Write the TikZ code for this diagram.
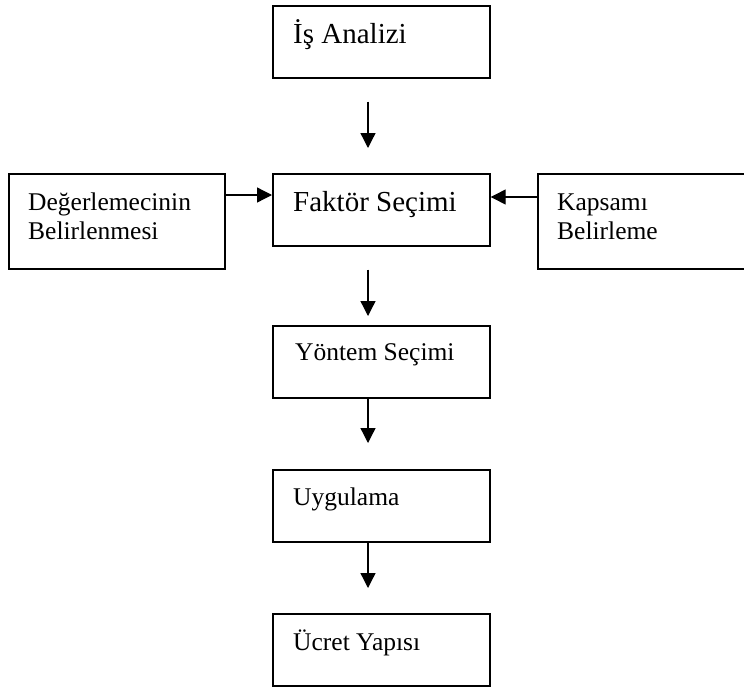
\documentclass[tikz,border=0pt]{standalone}
\usepackage{fontspec}
\setmainfont{Liberation Serif}
\usetikzlibrary{arrows.meta,calc}

\begin{document}
\begin{tikzpicture}[x=1pt,y=-1pt,
  box/.style={draw, line width=1.7pt, inner sep=0pt, anchor=north west,
              minimum width=217pt, minimum height=72pt},
  bigtxt/.style={anchor=base west, inner sep=0pt, font=\fontsize{29}{33}\selectfont},
  smalltxt/.style={anchor=base west, inner sep=0pt, align=left,
                   font=\fontsize{25.5}{29}\selectfont},
  flow/.style={line width=1.3pt, -{Triangle[width=15pt,length=15pt]}}]

  \useasboundingbox (0,0) rectangle (744,686);
  \clip (0,0) rectangle (744,686);

  % main column of boxes
  \node[box] (ia) at (272,5)   {};
  \node[box] (fs) at (272,173) {};
  \node[box] (ys) at (272,325) {};
  \node[box] (ug) at (272,469) {};
  \node[box] (uy) at (272,613) {};
  % side inputs
  \node[box, minimum width=216pt, minimum height=95pt] (db) at (8,173)   {};
  \node[box, minimum width=230pt, minimum height=95pt] (kb) at (537,173) {};

  % labels (two-line labels are placed by the baseline of their last line)
  \node[bigtxt]   (tia) at ($(ia.north west)+(21,38)$) {İş Analizi};
  \node[bigtxt]   (tfs) at ($(fs.north west)+(21,38)$) {Faktör Seçimi};
  \node[smalltxt] (tys) at ($(ys.north west)+(23,35)$) {Yöntem Seçimi};
  \node[smalltxt] (tug) at ($(ug.north west)+(21,36)$) {Uygulama};
  \node[smalltxt] (tuy) at ($(uy.north west)+(21,37)$) {Ücret Yapısı};
  \node[smalltxt] (tdb) at ($(db.north west)+(20,66)$) {Değerlemecinin\\Belirlenmesi};
  \node[smalltxt] (tkb) at ($(kb.north west)+(20,66)$) {Kapsamı\\Belirleme};

  % connectors
  \draw[flow] ($(ia.south west)+(96,23)$) -- ($(fs.north west)+(96,-25)$);
  \draw[flow] ($(db.north east)+(0,22)$) -- ($(fs.north west)+(0,22)$);
  \draw[flow] ($(kb.north west)+(0,24)$) -- ($(fs.north east)+(0,24)$);
  \draw[flow] ($(fs.south west)+(96,23)$) -- ($(ys.north west)+(96,-9)$);
  \draw[flow] ($(ys.south west)+(96,0)$)  -- ($(ug.north west)+(96,-26)$);
  \draw[flow] ($(ug.south west)+(96,0)$)  -- ($(uy.north west)+(96,-25)$);
\end{tikzpicture}
\end{document}
